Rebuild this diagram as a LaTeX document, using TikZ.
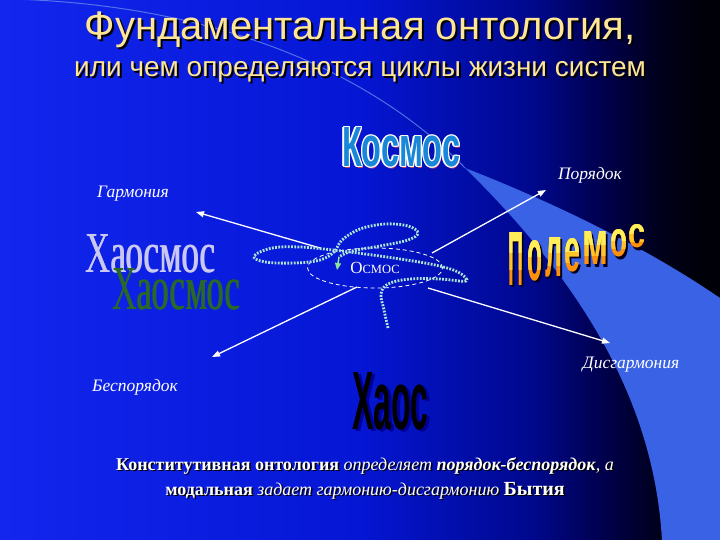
\documentclass[tikz,border=0pt]{standalone}
\usepackage{fontspec}
\setmainfont{Liberation Serif}
\newfontfamily\sansf{Liberation Sans}
\usepackage{graphicx}
\usetikzlibrary{shapes.geometric,arrows.meta}

\definecolor{bgA}{RGB}{18,38,238}
\definecolor{bgB}{RGB}{5,22,212}
\definecolor{bgC}{RGB}{0,8,140}
\definecolor{bgD}{RGB}{0,0,75}
\definecolor{bgE}{RGB}{0,0,25}
\definecolor{bgF}{RGB}{0,0,8}
\definecolor{bandcol}{RGB}{58,98,228}
\definecolor{thincol}{RGB}{110,150,240}
\definecolor{titlecol}{RGB}{255,230,150}
\definecolor{loopcol}{RGB}{175,230,220}
\definecolor{looptip}{RGB}{140,230,150}
\definecolor{kosfill}{RGB}{25,135,215}
\definecolor{kosred}{RGB}{200,60,90}
\definecolor{lavcol}{RGB}{200,200,240}
\definecolor{grncol}{RGB}{40,105,40}
\definecolor{polY}{RGB}{255,238,90}
\definecolor{polM}{RGB}{255,196,40}
\definecolor{polO}{RGB}{255,145,10}
\definecolor{polsh}{RGB}{0,0,35}
\definecolor{haossh}{RGB}{0,0,150}

\pgfdeclarehorizontalshading{bgshade}{100bp}{color(0bp)=(bgA); color(25bp)=(bgA); color(50bp)=(bgB); color(62bp)=(bgC); color(67bp)=(bgD); color(71bp)=(bgE); color(74bp)=(bgF); color(100bp)=(bgF)}

\newcommand\polLetter[5]{%
  \node[anchor=south west,inner sep=0,outer sep=0,text=polsh] at (#1+2.5,#2+2.5) {\resizebox{#3pt}{#4pt}{\sansf\bfseries #5}};
  \node[anchor=south west,inner sep=0,outer sep=0,text=polO] at (#1,#2) {\resizebox{#3pt}{#4pt}{\sansf\bfseries #5}};
  \begin{scope}
    \clip (#1-2,#2-#4-2) rectangle (#1+#3+2,#2-0.3*#4);
    \node[anchor=south west,inner sep=0,outer sep=0,text=polM] at (#1,#2) {\resizebox{#3pt}{#4pt}{\sansf\bfseries #5}};
  \end{scope}
  \begin{scope}
    \clip (#1-2,#2-#4-2) rectangle (#1+#3+2,#2-0.62*#4);
    \node[anchor=south west,inner sep=0,outer sep=0,text=polY] at (#1,#2) {\resizebox{#3pt}{#4pt}{\sansf\bfseries #5}};
  \end{scope}
}

\tikzset{
  lbl/.style={font=\fontsize{17.5}{20}\selectfont\itshape, text=white, inner sep=0},
  arr/.style={draw=white, line width=1.3pt, -{Triangle[length=8pt,width=6pt]}},
  word/.style={anchor=south west, inner sep=0, outer sep=0},
}

\begin{document}
\begin{tikzpicture}[x=1pt,y=-1pt]
\useasboundingbox (0,0) rectangle (720,540);
\clip (0,0) rectangle (720,540);
% background
\shade[shading=bgshade] (0,0) rectangle (720,540);
\fill[bandcol] (465,168) .. controls (560,205) and (650,250) .. (720,298) -- (720,540) -- (662,540) .. controls (655,420) and (600,300) .. (465,168) -- cycle;
\draw[thincol, line width=1pt, opacity=0.7] (10,-1) .. controls (230,5) and (380,80) .. (465,168);

% title
\node[anchor=base, text=black, font=\sansf\fontsize{40}{44}\selectfont] at (362,42) {Фундаментальная онтология,};
\node[anchor=base, text=titlecol, font=\sansf\fontsize{40}{44}\selectfont] (title) at (360,40) {Фундаментальная онтология,};
\node[anchor=base, text=black, font=\sansf\fontsize{28}{32}\selectfont] at (362,79) {или чем определяются циклы жизни систем};
\node[anchor=base, text=titlecol, font=\sansf\fontsize{28}{32}\selectfont] (subtitle) at (360,77) {или чем определяются циклы жизни систем};

% Kosmos
\node[word, text=kosred] at (343,169) {\resizebox{118pt}{39pt}{\sansf\bfseries Космос}};
\foreach \dx/\dy in {-1.3/0,1.3/0,0/-1.3,0/1.3,-1/-1,1/1,-1/1,1/-1}{
  \node[word, text=white] at (342+\dx,167+\dy) {\resizebox{118pt}{39pt}{\sansf\bfseries Космос}};
}
\node[word, text=kosfill] (kosmos) at (342,167) {\resizebox{118pt}{39pt}{\sansf\bfseries Космос}};

% Polemos
\polLetter{508}{285}{15}{53}{П}
\polLetter{527}{281}{15}{40}{о}
\polLetter{545}{277}{17}{39}{л}
\polLetter{564}{272}{16}{33}{е}
\polLetter{582}{265}{26}{33}{м}
\polLetter{610}{257}{17}{27}{о}
\polLetter{628}{248}{17}{23}{с}

% Haos
\node[word, text=haossh] at (355,432) {\resizebox{76pt}{57pt}{\sansf\bfseries Хаос}};
\node[word, text=black] (haos) at (352,430) {\resizebox{76pt}{57pt}{\sansf\bfseries Хаос}};

% Haosmos (double copies to thicken stems)
\node[word, text=lavcol] at (85.9,273) {\resizebox{130pt}{38pt}{Хаосмос}};
\node[word, text=lavcol] (haosmos1) at (85,273) {\resizebox{130pt}{38pt}{Хаосмос}};
\node[word, text=grncol] at (112.9,310) {\resizebox{128pt}{41pt}{Хаосмос}};
\node[word, text=grncol] (haosmos2) at (112,310) {\resizebox{128pt}{41pt}{Хаосмос}};

% labels
\node[lbl] (garm) at (133,194) {Гармония};
\node[lbl] (por) at (590,175) {Порядок};
\node[lbl] (bespor) at (135,387) {Беспорядок};
\node[lbl] (disg) at (631,365) {Дисгармония};

% arrows
\coordinate (s1) at (320,248); \coordinate (e1) at (196,212);
\coordinate (s2) at (432,253); \coordinate (e2) at (546,190);
\coordinate (s3) at (357,287); \coordinate (e3) at (212,357);
\coordinate (s4) at (428,288); \coordinate (e4) at (610,343);
\draw[arr] (s1) -- (e1);
\draw[arr] (s2) -- (e2);
\draw[arr] (s3) -- (e3);
\draw[arr] (s4) -- (e4);

% Osmos ellipse
\node[ellipse, draw=white, line width=0.8pt, dash pattern=on 4pt off 3pt, minimum width=135pt, minimum height=40pt, inner sep=0, text=white] (osmos) at (375,268)
  {\fontsize{17}{17}\selectfont О\fontsize{12.5}{12.5}\selectfont СМОС};

% dotted loop
\draw[loopcol, line width=2.8pt, dash pattern=on 1.8pt off 1.4pt]
  plot[smooth, tension=0.6] coordinates {(388,328) (384,310) (381,294) (388,284) (410,279) (440,279) (466,281) (458,272) (435,265) (400,259) (365,254) (333,250) (300,247) (272,248) (254,256) (265,262) (295,263) (320,260) (334,252) (342,240) (360,229) (385,224) (408,226) (418,233) (408,240) (380,246) (352,251) (339,257)};
\coordinate (lt1) at (339,257); \coordinate (lt2) at (337,270);
\draw[looptip, line width=1.5pt, -{Triangle[length=7pt,width=6pt]}] (lt1) -- (lt2);

% bottom text
\node[align=center, text=black, font=\fontsize{18}{25}\selectfont] at (366.5,479.5) {\textbf{Конститутивная онтология} \textit{определяет} \textbf{\textit{порядок-беспорядок}}\textit{, а}\\ \textbf{модальная} \textit{задает гармонию-дисгармонию} {\fontsize{20}{25}\selectfont\bfseries Бытия}};
\node[align=center, text=white, font=\fontsize{18}{25}\selectfont] (bottom) at (365,478) {\textbf{Конститутивная онтология} \textit{определяет} \textbf{\textit{порядок-беспорядок}}\textit{, а}\\ \textbf{модальная} \textit{задает гармонию-дисгармонию} {\fontsize{20}{25}\selectfont\bfseries Бытия}};
\end{tikzpicture}
\end{document}
